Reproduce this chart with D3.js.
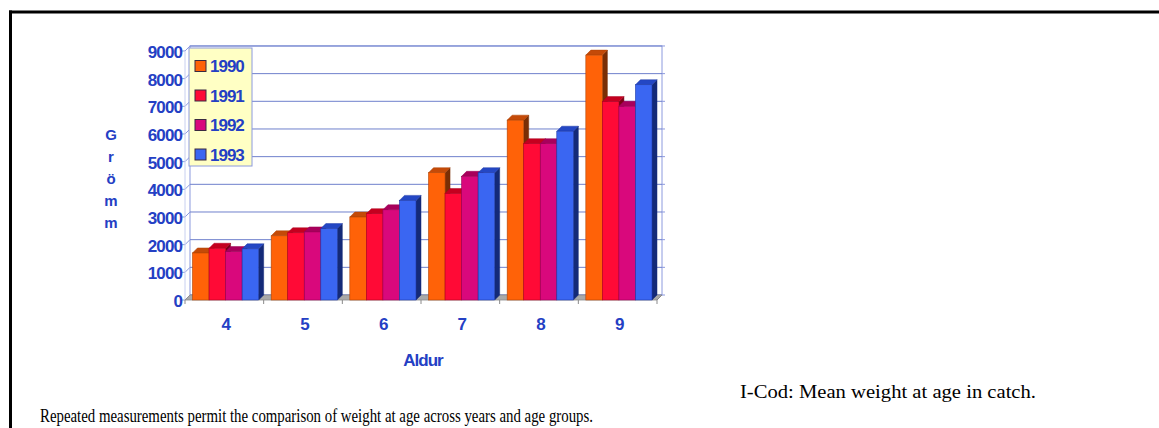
<!DOCTYPE html>
<html>
<head>
<meta charset="utf-8">
<script src="https://cdn.jsdelivr.net/npm/d3@7"></script>
<style>
  html, body { margin: 0; padding: 0; background: #ffffff; }
  svg { display: block; }
</style>
</head>
<body>
<svg id="chart" width="1159" height="428"></svg>
<script>
// Age groups on the x axis
const ages = ["4", "5", "6", "7", "8", "9"];
// Catch years (one bar each per age group)
const years = ["1990", "1991", "1992", "1993"];
// Mean weight at age (grams), one array per year, in age order
const w1990 = [1700, 2320, 3000, 4600, 6500, 8850];
const w1991 = [1870, 2430, 3120, 3850, 5650, 7170];
const w1992 = [1750, 2460, 3260, 4470, 5650, 7000];
const w1993 = [1850, 2580, 3600, 4600, 6100, 7780];
// Value axis ticks
const yTicks = [0, 1000, 2000, 3000, 4000, 5000, 6000, 7000, 8000, 9000];
const yTitle = ["G", "r", "ö", "m", "m"];
const xTitle = "Aldur";
const caption = "I-Cod: Mean weight at age in catch.";
const note = "Repeated measurements permit the comparison of weight at age across years and age groups.";

const seriesValues = [w1990, w1991, w1992, w1993];

// face colours per year: front, top, side
const faces = [
  { front: "#ff6208", top: "#c44a08", side: "#7a2e05", edge: "#b04506" },
  { front: "#ff0a36", top: "#c4001f", side: "#7c0016", edge: "#b00020" },
  { front: "#d9087c", top: "#a8005c", side: "#66003a", edge: "#9a0055" },
  { front: "#3a66f2", top: "#2447c4", side: "#142a78", edge: "#1f3aa8" }
];

const svg = d3.select("#chart");
const textBlue = "#2440c4";
const axisBlue = "#8c9ade";

// 3D depth offset of the chart box
const dx = 5, dy = -5;

const x0 = d3.scaleBand().domain(ages).range([185, 657]).padding(0);
const x1 = d3.scaleBand().domain(years).range([7.5, x0.bandwidth() - dx]).padding(0);
const y = d3.scaleLinear().domain([0, 9000]).range([300, 300 - 9 * 27.67]);

// outer frame lines
svg.append("line").attr("x1", 9).attr("x2", 1159).attr("y1", 12).attr("y2", 12)
  .attr("stroke", "#000").attr("stroke-width", 3);
svg.append("line").attr("x1", 10.5).attr("x2", 10.5).attr("y1", 10.5).attr("y2", 428)
  .attr("stroke", "#000").attr("stroke-width", 3);

const g = svg.append("g");

const left = x0.range()[0], right = x0.range()[1];
const base = y(0), topV = y(9000);

// back wall
g.append("rect").attr("x", left + dx).attr("y", topV + dy)
  .attr("width", right - left).attr("height", base - topV)
  .attr("fill", "#ffffff").attr("stroke", axisBlue).attr("stroke-width", 1);

// gridlines on back wall, and their run across the left wall
yTicks.forEach(t => {
  const yy = y(t);
  g.append("line").attr("x1", left + dx).attr("x2", right + dx)
    .attr("y1", yy + dy).attr("y2", yy + dy)
    .attr("stroke", "#6f80cc").attr("stroke-width", 1);
  g.append("line").attr("x1", left).attr("x2", left + dx)
    .attr("y1", yy).attr("y2", yy + dy)
    .attr("stroke", axisBlue).attr("stroke-width", 1);
  // tick mark
  g.append("line").attr("x1", left - 4).attr("x2", left)
    .attr("y1", yy).attr("y2", yy)
    .attr("stroke", axisBlue).attr("stroke-width", 1);
  // right wall tick
  g.append("line").attr("x1", right + dx).attr("x2", right + dx + 3)
    .attr("y1", yy + dy).attr("y2", yy + dy)
    .attr("stroke", axisBlue).attr("stroke-width", 1);
});

// left axis line (front)
g.append("line").attr("x1", left).attr("x2", left).attr("y1", base).attr("y2", topV)
  .attr("stroke", "#c8d0f0").attr("stroke-width", 1);

// floor
g.append("path")
  .attr("d", `M${left},${base} L${right},${base} L${right + dx},${base + dy} L${left + dx},${base + dy} Z`)
  .attr("fill", "#a9a9a9").attr("stroke", "#8a8a8a").attr("stroke-width", 0.8);

// category tick marks on the floor edge
d3.range(ages.length + 1).forEach(i => {
  const xx = left + i * x0.bandwidth();
  g.append("line").attr("x1", xx).attr("x2", xx).attr("y1", base).attr("y2", base + 4)
    .attr("stroke", "#8a8a8a").attr("stroke-width", 1);
});

// bars, drawn left to right so each front face covers its left neighbour's side
ages.forEach((age, ai) => {
  years.forEach((yr, si) => {
    const v = seriesValues[si][ai];
    const c = faces[si];
    const bx = x0(age) + x1(yr);
    const bw = x1.bandwidth();
    const by = y(v);
    const bar = g.append("g");
    bar.append("path")
      .attr("d", `M${bx + bw},${by} L${bx + bw + dx},${by + dy} L${bx + bw + dx},${base + dy} L${bx + bw},${base} Z`)
      .attr("fill", c.side).attr("stroke", c.side).attr("stroke-width", 0.5);
    bar.append("path")
      .attr("d", `M${bx},${by} L${bx + dx},${by + dy} L${bx + bw + dx},${by + dy} L${bx + bw},${by} Z`)
      .attr("fill", c.top).attr("stroke", c.edge).attr("stroke-width", 0.5);
    bar.append("rect")
      .attr("x", bx).attr("y", by).attr("width", bw).attr("height", base - by)
      .attr("fill", c.front).attr("stroke", c.edge).attr("stroke-width", 0.6);
  });
});

// right wall front edge
g.append("line").attr("x1", right).attr("x2", right + dx).attr("y1", base).attr("y2", base + dy)
  .attr("stroke", "#8a8a8a").attr("stroke-width", 1);

const font = "'Liberation Sans', Arial, sans-serif";

// y tick labels
g.selectAll("text.ytick").data(yTicks).join("text")
  .attr("class", "ytick")
  .attr("x", 182).attr("y", d => y(d) + 1.5)
  .attr("text-anchor", "end").attr("dominant-baseline", "central")
  .attr("font-family", font).attr("font-weight", "bold").attr("font-size", 17)
  .attr("letter-spacing", -0.9)
  .attr("fill", textBlue).text(d => d);

// x tick labels
g.selectAll("text.xtick").data(ages).join("text")
  .attr("class", "xtick")
  .attr("x", d => x0(d) + x0.bandwidth() / 2 + 2).attr("y", 324)
  .attr("text-anchor", "middle").attr("dominant-baseline", "central")
  .attr("font-family", font).attr("font-weight", "bold").attr("font-size", 17)
  .attr("fill", textBlue).text(d => d);

// axis titles
g.append("text").attr("x", 423).attr("y", 360)
  .attr("text-anchor", "middle").attr("dominant-baseline", "central")
  .attr("font-family", font).attr("font-weight", "bold").attr("font-size", 17)
  .attr("letter-spacing", -1)
  .attr("fill", textBlue).text(xTitle);

g.selectAll("text.ytitle").data(yTitle).join("text")
  .attr("class", "ytitle")
  .attr("x", 111).attr("y", (d, i) => 134 + i * 22)
  .attr("text-anchor", "middle").attr("dominant-baseline", "central")
  .attr("font-family", font).attr("font-weight", "bold").attr("font-size", 15)
  .attr("fill", textBlue).text(d => d);

// legend
const lg = svg.append("g").attr("transform", "translate(189,48)");
lg.append("rect").attr("width", 63).attr("height", 118)
  .attr("fill", "#ffffc4").attr("stroke", "#8c9ade").attr("stroke-width", 1);
years.forEach((yr, i) => {
  const cy = 18 + i * 29.5;
  lg.append("rect").attr("x", 6).attr("y", cy - 5.5).attr("width", 11).attr("height", 11)
    .attr("fill", faces[i].front).attr("stroke", "#3a2a40").attr("stroke-width", 1);
  lg.append("text").attr("x", 21).attr("y", cy + 0.5)
    .attr("dominant-baseline", "central")
    .attr("font-family", font).attr("font-weight", "bold").attr("font-size", 17)
    .attr("letter-spacing", -1)
    .attr("fill", textBlue).text(yr);
});

// caption and note
const serif = "'Liberation Serif', 'Times New Roman', serif";
svg.append("text").attr("x", 740).attr("y", 398)
  .attr("font-family", serif).attr("font-size", 18)
  .attr("textLength", 296).attr("lengthAdjust", "spacingAndGlyphs")
  .attr("fill", "#000").text(caption);
svg.append("text").attr("x", 40).attr("y", 422)
  .attr("font-family", serif).attr("font-size", 18)
  .attr("textLength", 553).attr("lengthAdjust", "spacingAndGlyphs")
  .attr("fill", "#000").text(note);
</script>
</body>
</html>
